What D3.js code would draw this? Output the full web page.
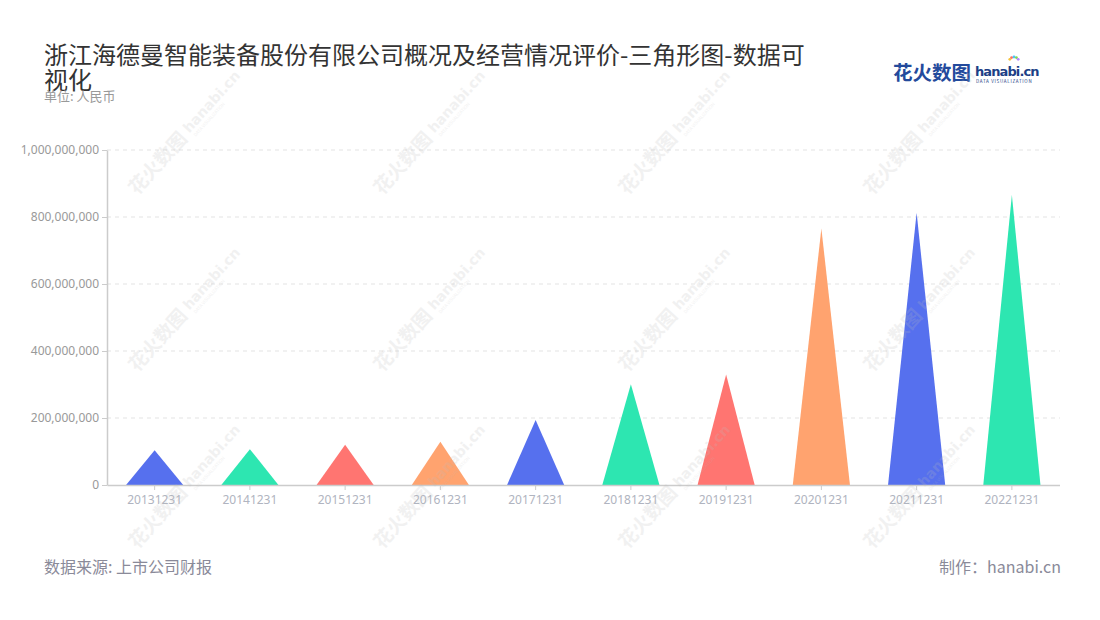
<!DOCTYPE html>
<html>
<head>
<meta charset="utf-8">
<script src="https://cdn.jsdelivr.net/npm/d3@7"></script>
<style>
  body { margin: 0; background: #fff; }
  svg { font-family: "Noto Sans CJK SC", "Noto Sans", sans-serif; }
</style>
</head>
<body>
<div id="chart"></div>
<script>
// Daten (aus dem Bild geschätzt)
const categories = ["20131231", "20141231", "20151231", "20161231", "20171231",
                    "20181231", "20191231", "20201231", "20211231", "20221231"];
const values = [104000000, 107000000, 120000000, 129000000, 194000000,
                301000000, 330000000, 766000000, 813000000, 866000000];
const yTicks = [0, 200000000, 400000000, 600000000, 800000000, 1000000000];
const palette = ["#5670ee", "#2de6b1", "#ff7571", "#ffa36f"];

const W = 1100, H = 620;
const margin = {left: 107, right: 40, top: 150, bottom: 135};

const svg = d3.select("#chart").append("svg")
    .attr("width", W)
    .attr("height", H);

// Titel
const title = svg.append("text")
    .attr("x", 44)
    .attr("y", 64)
    .attr("font-size", 24)
    .attr("fill", "#333");
title.append("tspan").attr("x", 44).attr("dy", 0)
    .text("浙江海德曼智能装备股份有限公司概况及经营情况评价-三角形图-数据可");
title.append("tspan").attr("x", 44).attr("dy", 25).text("视化");

svg.append("text")
    .attr("x", 44)
    .attr("y", 101)
    .attr("font-size", 13)
    .attr("fill", "#999")
    .text("单位: 人民币");

// Logo
const logo = svg.append("g").attr("transform", "translate(893,80)");
logo.append("text")
    .attr("x", 0).attr("y", 0)
    .attr("font-size", 19.5)
    .attr("font-weight", "bold")
    .attr("fill", "#234a9c")
    .text("花火数图");
logo.append("text")
    .attr("x", 82).attr("y", -4)
    .attr("font-size", 13)
    .attr("font-weight", "bold")
    .attr("fill", "#1d3f86")
    .attr("font-family", "DejaVu Sans, sans-serif")
    .attr("letter-spacing", -0.9)
    .text("hanabi.cn");
logo.append("text")
    .attr("x", 83).attr("y", 3)
    .attr("font-size", 4.5)
    .attr("fill", "#1d3f86")
    .attr("letter-spacing", 0.7)
    .text("DATA VISUALIZATION");
const sparkColors = ["#f5c33b", "#ff6f61", "#4fc3f7", "#7ed957", "#b388ff"];
sparkColors.forEach((c, i) => {
    const a = -Math.PI / 2 + (i - 2) * 0.5;
    logo.append("circle")
        .attr("cx", 121 + Math.cos(a) * 5)
        .attr("cy", -18 + Math.sin(a) * 5)
        .attr("r", 1.4)
        .attr("fill", c);
});

// Skalen
const x = d3.scaleBand()
    .domain(categories)
    .range([margin.left, W - margin.right - 0.5])
    .padding(0);

const y = d3.scaleLinear()
    .domain([0, 1000000000])
    .range([H - margin.bottom, margin.top]);

// Gitterlinien
svg.append("g")
    .selectAll("line")
    .data(yTicks.slice(1))
    .join("line")
    .attr("x1", margin.left)
    .attr("x2", W - margin.right)
    .attr("y1", d => y(d))
    .attr("y2", d => y(d))
    .attr("stroke", "#e3e3e3")
    .attr("stroke-dasharray", "4,4");

// Dreiecke
const tri = d => {
    const cx = x(d.cat) + x.bandwidth() / 2;
    const hw = x.bandwidth() * 0.3;
    const y0 = y(0);
    return `M${cx - hw},${y0}L${cx},${y(d.val)}L${cx + hw},${y0}Z`;
};
svg.append("g")
    .selectAll("path")
    .data(categories.map((c, i) => ({cat: c, val: values[i], i: i})))
    .join("path")
    .attr("d", tri)
    .attr("fill", d => palette[d.i % palette.length]);

// Achsen
const yAxis = svg.append("g")
    .attr("transform", `translate(${margin.left},0)`)
    .call(d3.axisLeft(y).tickValues(yTicks).tickFormat(d3.format(",")).tickSize(5).tickSizeOuter(0));
yAxis.select(".domain").attr("stroke", "#ccc").attr("stroke-width", 1.5);
yAxis.selectAll(".tick line").attr("stroke", "#ccc");
yAxis.selectAll("text")
    .attr("fill", "#999")
    .attr("font-size", 12)
    .attr("font-family", "Noto Sans, sans-serif");

const xAxis = svg.append("g")
    .attr("transform", `translate(0,${y(0)})`)
    .call(d3.axisBottom(x).tickSize(5).tickSizeOuter(0));
xAxis.select(".domain").attr("stroke", "#ccc").attr("stroke-width", 1.5);
xAxis.selectAll(".tick line").attr("stroke", "#ccc");
xAxis.selectAll("text")
    .attr("fill", "#b0b4c0")
    .attr("font-size", 12)
    .attr("dy", "0.9em")
    .attr("font-family", "Noto Sans, sans-serif");

// Wasserzeichen
const wmX = [183, 428, 673, 918];
const wmY = [136, 313, 490];
const wm = svg.append("g").attr("pointer-events", "none");
wmY.forEach(wy => wmX.forEach(wx => {
    const g = wm.append("g")
        .attr("transform", `translate(${wx},${wy}) rotate(-48)`)
        .attr("opacity", 0.2);
    g.append("text")
        .attr("x", -75).attr("y", 6)
        .attr("font-size", 19)
        .attr("font-weight", "bold")
        .attr("fill", "#bbb")
        .text("花火数图");
    g.append("text")
        .attr("x", 6).attr("y", 3)
        .attr("font-size", 14)
        .attr("font-weight", "bold")
        .attr("fill", "#bbb")
        .attr("font-family", "DejaVu Sans, sans-serif")
        .text("hanabi.cn");
    g.append("text")
        .attr("x", 8).attr("y", 10)
        .attr("font-size", 4.5)
        .attr("fill", "#bbb")
        .text("DATA VISUALIZATION");
}));

// Fußzeile
svg.append("text")
    .attr("x", 44)
    .attr("y", 573)
    .attr("font-size", 16)
    .attr("fill", "#8a8a99")
    .text("数据来源: 上市公司财报");

svg.append("text")
    .attr("x", 1061)
    .attr("y", 573)
    .attr("text-anchor", "end")
    .attr("font-size", 16)
    .attr("fill", "#8a8a99")
    .text("制作：hanabi.cn");
</script>
</body>
</html>
